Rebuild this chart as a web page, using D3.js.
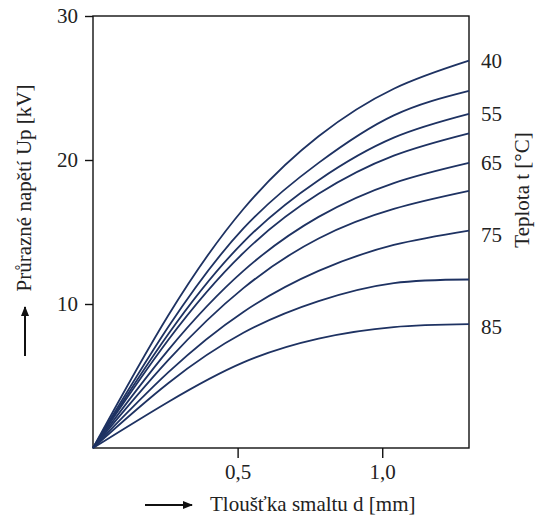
<!DOCTYPE html>
<html>
<head>
<meta charset="utf-8">
<script src="https://cdn.jsdelivr.net/npm/d3@7/dist/d3.min.js"></script>
<style>
  html, body { margin: 0; padding: 0; background: #fff; }
  svg text { font-family: "Liberation Serif", "Times New Roman", serif; fill: #222; }
</style>
</head>
<body>
<svg id="chart" width="537" height="515"></svg>
<script>
// ---- data ----
const thickness = [0, 0.26, 0.52, 0.78, 1.04, 1.3];          // d [mm]
const curve1 = [0, 9.2, 16.6, 21.65, 24.95, 26.9];
const curve2 = [0, 8.4, 15.25, 19.8, 23.1, 24.8];
const curve3 = [0, 7.9, 14.3, 18.6, 21.55, 23.2];
const curve4 = [0, 7.5, 13.55, 17.65, 20.3, 21.85];
const curve5 = [0, 6.8, 12.3, 16.05, 18.4, 19.8];
const curve6 = [0, 6.1, 11.1, 14.55, 16.6, 17.85];
const curve7 = [0, 5.25, 9.45, 12.3, 14.1, 15.1];
const curve8 = [0, 4.5, 8.0, 10.2, 11.45, 11.7];
const curve9 = [0, 3.2, 5.95, 7.6, 8.4, 8.6];
const curves = [curve1, curve2, curve3, curve4, curve5, curve6, curve7, curve8, curve9];
// right-side temperature labels and the voltage at which each is written
const tempLabels = ["40", "55", "65", "75", "85"];
const tempLabelY = [26.9, 23.2, 19.8, 14.8, 8.4];
const xTicks = [0.5, 1.0];
const xTickLabels = ["0,5", "1,0"];
const yTicks = [10, 20, 30];
const yTickLabels = ["10", "20", "30"];

(function () {
  // ---- layout ----
  const svg = d3.select("#chart");
  const mLeft = 93, mRight = 469, mTop = 16, mBottom = 448;
  const x = d3.scaleLinear().domain([0, 1.3]).range([mLeft, mRight]);
  const y = d3.scaleLinear().domain([0, 30]).range([mBottom, mTop]);
  const lineColor = "#1e3262";
  const fs = 21;

  // frame
  svg.append("rect")
    .attr("x", mLeft).attr("y", mTop)
    .attr("width", mRight - mLeft).attr("height", mBottom - mTop)
    .attr("fill", "none").attr("stroke", "#111").attr("stroke-width", 1.4);

  // y axis ticks + labels
  const yAxis = d3.axisLeft(y).tickValues(yTicks)
    .tickFormat((d, i) => yTickLabels[i]).tickSize(8).tickPadding(7);
  const yg = svg.append("g").attr("transform", `translate(${mLeft},0)`).call(yAxis);
  yg.select(".domain").remove();
  yg.selectAll("line").attr("stroke", "#111").attr("stroke-width", 1.4);
  yg.selectAll("text").attr("font-size", fs).attr("font-family", "Liberation Serif").attr("fill", "#222");

  // x axis ticks + labels
  const xAxis = d3.axisBottom(x).tickValues(xTicks)
    .tickFormat((d, i) => xTickLabels[i]).tickSize(10).tickPadding(6);
  const xg = svg.append("g").attr("transform", `translate(0,${mBottom})`).call(xAxis);
  xg.select(".domain").remove();
  xg.selectAll("line").attr("stroke", "#111").attr("stroke-width", 1.4);
  xg.selectAll("text").attr("font-size", fs).attr("font-family", "Liberation Serif").attr("fill", "#222");

  // curves
  const line = d3.line()
    .x((d, i) => x(thickness[i]))
    .y(d => y(d))
    .curve(d3.curveNatural);
  svg.append("g").selectAll("path").data(curves).join("path")
    .attr("d", d => line(d))
    .attr("fill", "none")
    .attr("stroke", lineColor)
    .attr("stroke-width", 1.8);

  // temperature labels
  svg.append("g").selectAll("text").data(tempLabels).join("text")
    .attr("x", mRight + 12)
    .attr("y", (d, i) => y(tempLabelY[i]))
    .attr("dy", "0.35em")
    .attr("font-size", fs)
    .text(d => d);

  // axis titles
  svg.append("text")
    .attr("transform", `translate(31,188) rotate(-90)`)
    .attr("text-anchor", "middle")
    .attr("font-size", fs)
    .text("Průrazné napětí Up [kV]");

  svg.append("text")
    .attr("transform", `translate(529,190) rotate(-90)`)
    .attr("text-anchor", "middle")
    .attr("font-size", fs)
    .text("Teplota t [°C]");

  svg.append("text")
    .attr("x", 210).attr("y", 511)
    .attr("font-size", fs)
    .text("Tloušťka smaltu d [mm]");

  // arrows
  svg.append("defs").append("marker")
    .attr("id", "ah").attr("viewBox", "0 0 10 10")
    .attr("refX", 9).attr("refY", 5)
    .attr("markerWidth", 10).attr("markerHeight", 10)
    .attr("markerUnits", "userSpaceOnUse")
    .attr("orient", "auto")
    .append("path").attr("d", "M0,1 L10,5 L0,9 Z").attr("fill", "#111");

  svg.append("line")
    .attr("x1", 145).attr("y1", 505).attr("x2", 192).attr("y2", 505)
    .attr("stroke", "#111").attr("stroke-width", 2).attr("marker-end", "url(#ah)");
  svg.append("line")
    .attr("x1", 25).attr("y1", 356).attr("x2", 25).attr("y2", 307)
    .attr("stroke", "#111").attr("stroke-width", 2).attr("marker-end", "url(#ah)");
})();
</script>
</body>
</html>
